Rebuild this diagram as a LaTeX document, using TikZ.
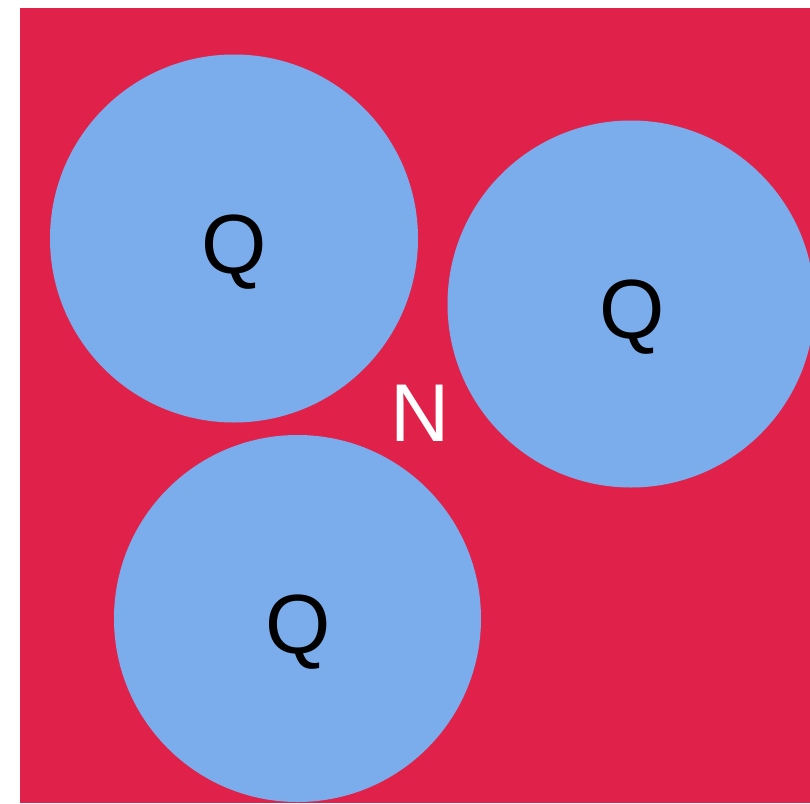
\documentclass[tikz,border=0pt]{standalone}
\usepackage{fontspec}
\setmainfont{Liberation Sans}
\definecolor{bgred}{HTML}{E0224A}
\definecolor{cblue}{HTML}{7BADEC}
\begin{document}
\begin{tikzpicture}[x=1pt,y=-1pt,
  disc/.style={fill=cblue,draw=none},
  qlabel/.style={text=black,font=\fontsize{84}{84}\selectfont,inner sep=0pt},
  nlabel/.style={text=white,font=\fontsize{82}{82}\selectfont,inner sep=0pt}]
\useasboundingbox (0,0) rectangle (810,803);
\clip (0,0) rectangle (810,803);
\fill[bgred] (20,8) rectangle (810,803);
\fill[disc] (234,238.5) circle (184);
\fill[disc] (631,304) circle (183.5);
\fill[disc] (297.5,618.5) circle (183.5);
\node[qlabel] (q1) at (234,252) {Q};
\node[qlabel] (q2) at (632,317) {Q};
\node[qlabel] (q3) at (298,632) {Q};
\node[nlabel] (n) at (420,413) {N};
\end{tikzpicture}
\end{document}
